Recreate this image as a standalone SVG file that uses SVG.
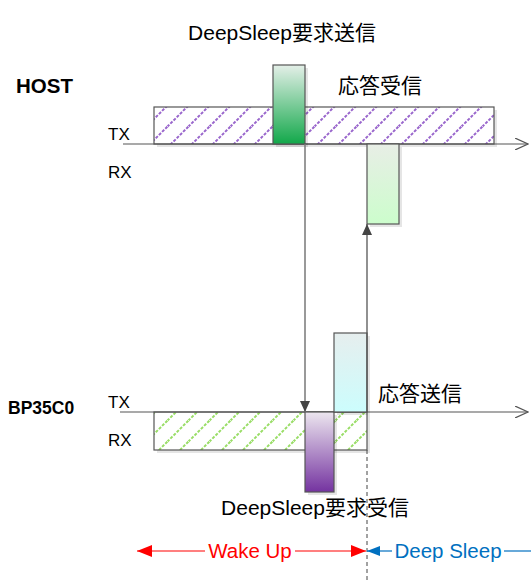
<svg xmlns="http://www.w3.org/2000/svg" width="531" height="583" viewBox="0 0 531 583">
<style>
.t{font-family:"Liberation Sans","Noto Sans CJK JP",sans-serif;fill:#000}
.lbl{font-size:21px}
.ax{font-size:17px}
.axis{stroke:#555;stroke-width:1.2;fill:none}
.box{stroke:#555;stroke-width:1.2}
.sh{fill:#000;opacity:0.1}
</style>
<defs>
<pattern id="hp" width="21" height="21" patternUnits="userSpaceOnUse">
<path d="M-4,25 L25,-4 M-4,4 L4,-4 M17,25 L25,17" stroke="#9966cc" stroke-width="2" stroke-dasharray="3 1.5"/>
</pattern>
<pattern id="hg" width="21" height="21" patternUnits="userSpaceOnUse">
<path d="M-4,25 L25,-4 M-4,4 L4,-4 M17,25 L25,17" stroke="#99dd66" stroke-width="2" stroke-dasharray="3 1.5"/>
</pattern>
<linearGradient id="gG" x1="0" y1="0" x2="0" y2="1"><stop offset="0" stop-color="#e4efe8"/><stop offset="1" stop-color="#12a84a"/></linearGradient>
<linearGradient id="gL" x1="0" y1="0" x2="0" y2="1"><stop offset="0" stop-color="#e8eee6"/><stop offset="1" stop-color="#ccfdcc"/></linearGradient>
<linearGradient id="gP" x1="0" y1="0" x2="0" y2="1"><stop offset="0" stop-color="#ece6ef"/><stop offset="1" stop-color="#7433a0"/></linearGradient>
<linearGradient id="gC" x1="0" y1="0" x2="0" y2="1"><stop offset="0" stop-color="#e6eeee"/><stop offset="1" stop-color="#ccfdfd"/></linearGradient>
<marker id="open" markerWidth="14" markerHeight="12" refX="13" refY="6" orient="auto" markerUnits="userSpaceOnUse"><path d="M0,0 L13,6 L0,12" fill="none" stroke="#555" stroke-width="1.2"/></marker>
<marker id="tri" markerWidth="12" markerHeight="10" refX="11" refY="5" orient="auto" markerUnits="userSpaceOnUse"><path d="M0,0 L11,5 L0,10 Z" fill="#444"/></marker>
<marker id="red" markerWidth="16" markerHeight="12" refX="15" refY="6" orient="auto" markerUnits="userSpaceOnUse"><path d="M0,0 L15,6 L0,12 Z" fill="#ff0000"/></marker>
<marker id="blue" markerWidth="14" markerHeight="10" refX="13" refY="5" orient="auto" markerUnits="userSpaceOnUse"><path d="M0,0 L13,5 L0,10 Z" fill="#0070c0"/></marker>
</defs>

<g id="host">
<text class="t" x="16" y="93" font-size="20.5" font-weight="bold">HOST</text>
<text class="t ax" x="108" y="140">TX</text>
<text class="t ax" x="108" y="178">RX</text>
<rect class="sh" x="157" y="110" width="340" height="37"/>
<rect x="154" y="107" width="340" height="37" fill="#fff"/>
<rect x="154" y="107" width="340" height="37" fill="url(#hp)" class="box"/>
</g>

<g id="host-axis">
<line x1="123" y1="144" x2="528" y2="144" class="axis" marker-end="url(#open)"/>
</g>

<g id="dsreq-send">
<rect class="sh" x="276" y="68" width="32" height="79"/>
<rect x="273" y="65" width="32" height="79" fill="url(#gG)" class="box"/>
<text class="t lbl" x="282" y="40" text-anchor="middle">DeepSleep要求送信</text>
</g>

<g id="resp-recv">
<rect class="sh" x="370" y="147" width="32" height="80"/>
<rect x="367" y="144" width="32" height="80" fill="url(#gL)" class="box"/>
<text class="t lbl" x="338" y="93">応答受信</text>
</g>

<g id="bp35c0">
<text class="t" x="8" y="414" font-size="17.5" font-weight="bold">BP35C0</text>
<text class="t ax" x="108" y="408">TX</text>
<text class="t ax" x="108" y="446">RX</text>
<rect class="sh" x="157" y="415" width="213" height="38"/>
<rect x="154" y="412" width="213" height="38" fill="#fff"/>
<rect x="154" y="412" width="213" height="38" fill="url(#hg)" class="box"/>
</g>

<g id="bp-axis">
<line x1="120" y1="412" x2="528" y2="412" class="axis" marker-end="url(#open)"/>
</g>

<g id="dsreq-recv">
<rect class="sh" x="308" y="415" width="29" height="80"/>
<rect x="305" y="412" width="29" height="80" fill="url(#gP)" class="box"/>
<text class="t lbl" x="315" y="515" text-anchor="middle">DeepSleep要求受信</text>
</g>

<g id="resp-send">
<rect class="sh" x="337" y="336" width="33" height="79"/>
<rect x="334" y="333" width="33" height="79" fill="url(#gC)" class="box"/>
<text class="t lbl" x="378" y="401">応答送信</text>
</g>

<g id="connectors">
<line x1="305" y1="144" x2="305" y2="412" stroke="#777" stroke-width="1.5" marker-end="url(#tri)"/>
<line x1="367" y1="412" x2="367" y2="224" stroke="#555" stroke-width="1.3" marker-end="url(#tri)"/>
<line x1="367" y1="450" x2="367" y2="583" stroke="#444" stroke-width="1" stroke-dasharray="4 3"/>
<line x1="205" y1="551" x2="137" y2="551" stroke="#ff0000" stroke-width="1.2" marker-end="url(#red)"/>
<line x1="295" y1="551" x2="366" y2="551" stroke="#ff0000" stroke-width="1.2" marker-end="url(#red)"/>
<line x1="392" y1="551" x2="367" y2="551" stroke="#0070c0" stroke-width="1.2" marker-end="url(#blue)"/>
<line x1="504" y1="551" x2="531" y2="551" stroke="#0070c0" stroke-width="1.2"/>
<text x="250" y="558" text-anchor="middle" font-family="Liberation Sans, sans-serif" font-size="20.5" fill="#ff0000">Wake Up</text>
<text x="448" y="558" text-anchor="middle" font-family="Liberation Sans, sans-serif" font-size="20.5" fill="#0070c0">Deep Sleep</text>
</g>
</svg>
